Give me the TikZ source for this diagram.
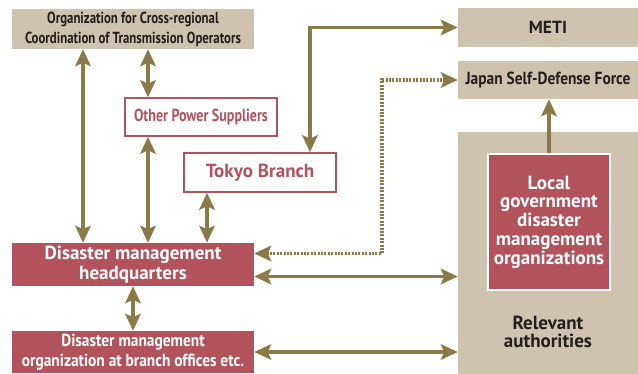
\documentclass[tikz,border=0pt]{standalone}
\usepackage{fontspec}
\setmainfont{PT Sans}
\newfontfamily\condfont{PT Sans}[FakeStretch=0.8]
\newfontfamily\narrowfont{PT Sans}[FakeStretch=0.88]
\usepackage{tikz}
\usetikzlibrary{arrows.meta, positioning, calc}
\usepackage{xcolor}
\definecolor{orgbeige}{RGB}{205, 195, 174}
\definecolor{orgred}{RGB}{178, 82, 90}
\definecolor{linkolive}{RGB}{138, 122, 71}
\definecolor{textdark}{RGB}{35, 31, 32}

\tikzset{
  tip/.tip={Stealth[length=17pt, width=15.5pt, inset=3.5pt]},
  beigebox/.style={fill=orgbeige, inner sep=0pt, align=center, text=textdark,
    font=\fontsize{17.5}{20}\selectfont\bfseries},
  redbox/.style={fill=orgred, inner sep=0pt, align=center, text=white,
    font=\fontsize{19}{20}\selectfont\bfseries},
  outlinebox/.style={draw=orgred, line width=1.5pt, fill=white, inner sep=0pt,
    align=center, text=orgred},
  link/.style={draw=linkolive, line width=3.6pt, tip-tip},
  uplink/.style={draw=linkolive, line width=3.6pt, -tip},
  dotlink/.style={link, dash pattern=on 2pt off 1.4pt}
}

\begin{document}
\begin{tikzpicture}[x=1pt, y=1pt]
  \useasboundingbox (0,0) rectangle (638,374);

  % left column
  \node[beigebox, minimum width=242, minimum height=40,
        font=\condfont\fontsize{16}{20}\selectfont\bfseries] (occto) at (133,345)
    {Organization for Cross-regional\\Coordination of Transmission Operators};
  \node[outlinebox, minimum width=152, minimum height=38,
        font=\condfont\fontsize{17.5}{20}\selectfont\bfseries] (ops) at (201,257)
    {Other Power Suppliers};
  \node[outlinebox, minimum width=152, minimum height=39,
        font=\fontsize{19}{20}\selectfont\bfseries] (tokyo) at (260,201.5)
    {Tokyo Branch};
  \node[redbox, minimum width=242, minimum height=43] (hq) at (133,109.5)
    {Disaster management\\headquarters};
  \node[redbox, minimum width=242, minimum height=42,
        font=\narrowfont\fontsize{17.5}{20}\selectfont\bfseries] (branch) at (133,22)
    {Disaster management\\organization at branch offices etc.};

  % right column
  \node[beigebox, minimum width=180, minimum height=39] (meti) at (548,346.5) {METI};
  \node[beigebox, minimum width=180, minimum height=38,
        font=\narrowfont\fontsize{17.5}{20}\selectfont\bfseries] (jsdf) at (548,294)
    {Japan Self-Defense Force};
  \node[beigebox, minimum width=180, minimum height=242] (relev) at (548,121) {};
  \node[text=textdark, align=center, font=\fontsize{19}{18.5}\selectfont\bfseries]
    (relevtext) at (548,42) {Relevant\\authorities};
  \node[redbox, draw=white, line width=1.5pt, minimum width=122, minimum height=136,
        font=\fontsize{19}{18.7}\selectfont\bfseries] (local) at (549,152)
    {Local\\government\\disaster\\management\\organizations};

  % connectors
  \coordinate (occtoL) at ([xshift=-50pt]occto.south);
  \coordinate (occtoR) at ([xshift=15pt]occto.south);
  \coordinate (opsS) at ([xshift=-53pt]ops.south);
  \coordinate (tokyoS) at ([xshift=-53pt]tokyo.south);
  \coordinate (tokyoN) at ([xshift=50pt]tokyo.north);
  \coordinate (hqUp) at ([yshift=11pt]hq.east);
  \coordinate (hqLow) at ([yshift=-12pt]hq.east);

  \draw[link] (occtoL) -- (occtoL |- hq.north);
  \draw[link] (occtoR) -- (occtoR |- ops.north);
  \draw[link] (opsS) -- (opsS |- hq.north);
  \draw[link] (tokyoS) -- (tokyoS |- hq.north);
  \draw[link] (tokyoN) |- (meti.west);
  \draw[dotlink] (hqUp) -- ++(128pt,0) |- (jsdf.west);
  \draw[link] (hqLow) -- (hqLow -| relev.west);
  \draw[link] (branch.east) -- (branch.east -| relev.west);
  \draw[link] (hq.south) -- (branch.north);
  \draw[uplink] (local.north) -- (local.north |- jsdf.south);
\end{tikzpicture}
\end{document}
